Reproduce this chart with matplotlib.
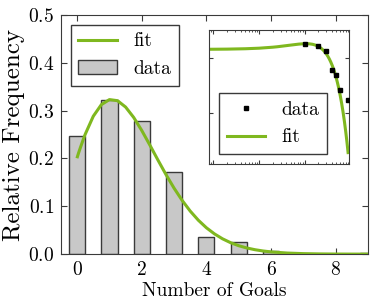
import numpy as np
import matplotlib
matplotlib.use('Agg')
import matplotlib.pyplot as plt

plt.rcParams['font.family'] = 'serif'
plt.rcParams['font.serif'] = ['cmr10']
plt.rcParams['mathtext.fontset'] = 'cm'
plt.rcParams['axes.formatter.use_mathtext'] = True

# observed relative frequency of goals per match
goals = [0, 1, 2, 3, 4, 5, 6, 7, 8, 9]
freq = [0.247, 0.322, 0.278, 0.172, 0.036, 0.025, 0.007, 0.0, 0.0, 0.003]

# fitted curve
fit_x = [0.008, 0.01, 0.02, 0.05, 0.1, 0.2, 0.25, 0.5, 0.75, 1.0, 1.25, 1.5, 1.75,
         2.0, 2.25, 2.5, 2.75, 3.0, 3.25, 3.5, 3.75, 4.0, 4.25, 4.5, 4.75,
         5.0, 5.25, 5.5, 5.75, 6.0, 6.5, 7.0, 7.5, 8.0, 8.5, 9.0]
fit_y = [0.2035, 0.2040, 0.2061, 0.2125, 0.2224, 0.2416, 0.2505, 0.2882, 0.3125,
         0.3230, 0.3207, 0.3074, 0.2857, 0.2584, 0.2280, 0.1967, 0.1662, 0.1378,
         0.1123, 0.0899, 0.0709, 0.0551, 0.0423, 0.0320, 0.0239, 0.01764,
         0.01288, 0.00930, 0.00665, 0.00470, 0.00229, 0.001075, 0.000489,
         0.000215, 0.0000920, 0.0000382]

green = '#7fb81f'
edge = '#3a3a3a'

fig = plt.figure(figsize=(3.74, 3.04), dpi=100)
ax = fig.add_axes([0.163, 0.164, 0.821, 0.787])
ax.bar(goals, freq, width=0.5, color='#c8c8c8', edgecolor=edge, linewidth=1,
       label='data', zorder=2)
ax.plot(fit_x, fit_y, color=green, lw=2.2, label='fit', zorder=3)
ax.set_xlim(-0.5, 9)
ax.set_ylim(0, 0.5)
ax.set_xticks([0, 2, 4, 6, 8])
ax.set_yticks([0.0, 0.1, 0.2, 0.3, 0.4, 0.5])
ax.tick_params(direction='in', top=True, right=True, labelsize=14, length=4,
               color=edge, pad=5)
for s in ax.spines.values():
    s.set_color(edge)
ax.set_xlabel('Number of Goals', fontsize=14, labelpad=2)
ax.set_ylabel('Relative Frequency', fontsize=18, labelpad=2)
leg = ax.legend(loc='upper left', fontsize=14, fancybox=False,
                framealpha=1, edgecolor=edge, handlelength=2.0)
leg.get_frame().set_linewidth(1)

# log-log inset
ins = fig.add_axes([0.559, 0.461, 0.374, 0.44])
ins.plot(goals, freq, 's', color='black', markersize=3, label='data', zorder=3)
ins.plot(fit_x, fit_y, color=green, lw=2.2, label='fit', zorder=2)
ins.set_xscale('log')
ins.set_yscale('log')
ins.set_xlim(0.008, 9.4)
ins.set_ylim(1.5e-5, 1.0)
ins.tick_params(which='both', direction='in', top=True, right=True,
                labelbottom=False, labelleft=False, color=edge)
ins.tick_params(which='major', length=3)
ins.tick_params(which='minor', length=1.5)
for s in ins.spines.values():
    s.set_color(edge)
leg2 = ins.legend(loc='lower left', fontsize=14, fancybox=False, framealpha=1,
                  edgecolor=edge, handlelength=2.0)
leg2.get_frame().set_linewidth(1)

fig.savefig('out.png', dpi=100)
